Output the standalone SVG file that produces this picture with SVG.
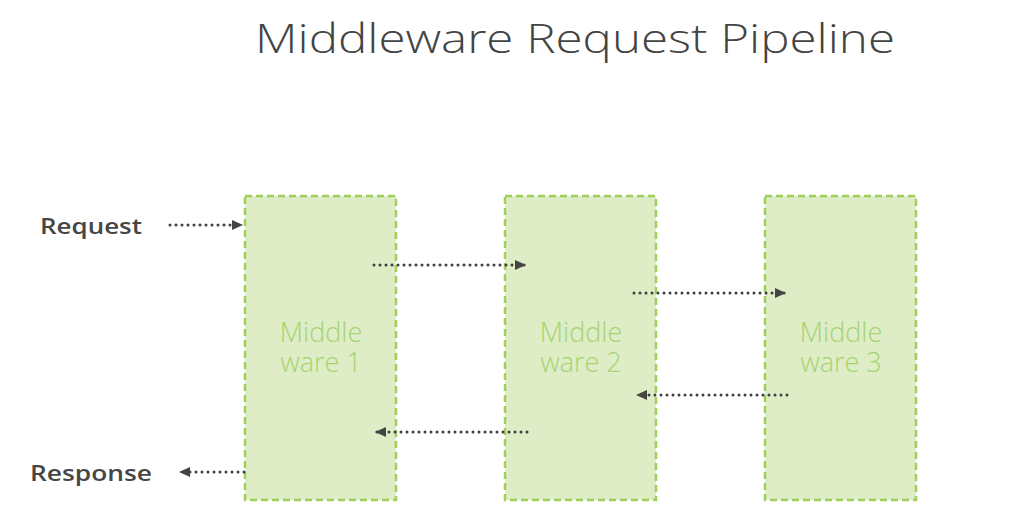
<svg xmlns="http://www.w3.org/2000/svg" width="1010" height="524" viewBox="0 0 1010 524">
<style>
.box{fill:#deedc5;stroke:#9fd05a;stroke-width:2.5;stroke-dasharray:7 4}
.bt{font-family:"Open Sans","Liberation Sans",sans-serif;font-size:27px;font-weight:300;fill:#a6d473;text-anchor:middle}
.lbl{font-family:"Open Sans","Liberation Sans",sans-serif;font-size:22px;font-weight:600;fill:#464646}
.title{font-family:"Open Sans","Liberation Sans",sans-serif;font-size:40px;font-weight:300;fill:#444}
.con{stroke:#3f3f3f;stroke-width:3;stroke-dasharray:0 6;stroke-linecap:round;fill:none}
</style>
<defs>
<marker id="ah" markerWidth="11" markerHeight="11" refX="10" refY="5.5" orient="auto" markerUnits="userSpaceOnUse" viewBox="0 0 11 11">
<path d="M0,0.5 L11,5.5 L0,10.5 Z" fill="#444"/>
</marker>
</defs>
<rect width="1010" height="524" fill="#fff"/>
<text class="title" x="255" y="53" textLength="640" lengthAdjust="spacingAndGlyphs">Middleware Request Pipeline</text>
<g id="request"><text class="lbl" x="40" y="234" textLength="102" lengthAdjust="spacingAndGlyphs">Request</text></g>
<g id="response"><text class="lbl" x="30" y="481" textLength="122" lengthAdjust="spacingAndGlyphs">Response</text></g>
<g id="mw1"><rect class="box" x="245" y="196" width="151" height="304"/><text class="bt"><tspan x="321" y="342">Middle</tspan><tspan x="321" y="372">ware 1</tspan></text></g>
<g id="mw2"><rect class="box" x="505" y="196" width="151" height="304"/><text class="bt"><tspan x="581" y="342">Middle</tspan><tspan x="581" y="372">ware 2</tspan></text></g>
<g id="mw3"><rect class="box" x="765" y="196" width="151" height="304"/><text class="bt"><tspan x="841" y="342">Middle</tspan><tspan x="841" y="372">ware 3</tspan></text></g>
<g id="connectors">
<line class="con" x1="170" y1="225" x2="242" y2="225" marker-end="url(#ah)"/>
<line class="con" x1="374" y1="265" x2="525" y2="265" marker-end="url(#ah)"/>
<line class="con" x1="634" y1="293" x2="785" y2="293" marker-end="url(#ah)"/>
<line class="con" x1="787" y1="395" x2="637" y2="395" marker-end="url(#ah)"/>
<line class="con" x1="527" y1="432" x2="376" y2="432" marker-end="url(#ah)"/>
<line class="con" x1="244" y1="472" x2="180" y2="472" marker-end="url(#ah)"/>
</g>
</svg>
